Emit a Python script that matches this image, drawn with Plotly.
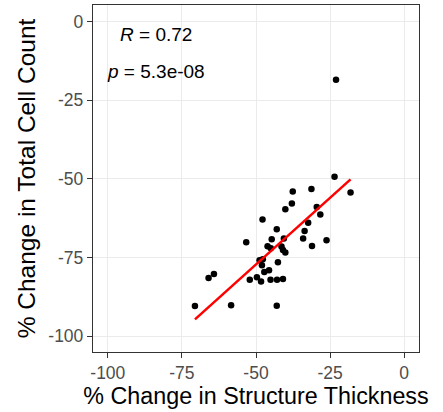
import numpy as np
import plotly.graph_objects as go

thickness_change = [-23.0, -23.5, -18.1, -37.6, -31.3, -37.9, -40.1, -29.5, -28.3, -47.8,
                    -32.4, -43.0, -33.6, -34.1, -26.2, -53.3, -44.7, -40.6, -31.1, -46.1,
                    -45.0, -41.4, -40.9, -40.1, -48.8, -47.7, -48.0, -42.6, -45.6, -47.2,
                    -52.1, -49.7, -48.3, -45.1, -42.9, -40.9, -64.2, -66.0, -70.6, -58.4,
                    -43.0]
cell_count_change = [-18.5, -49.3, -54.3, -54.0, -53.2, -57.8, -59.6, -58.9, -61.3, -62.9,
                     -63.9, -66.0, -66.5, -68.9, -69.5, -70.1, -69.2, -68.9, -71.3, -71.4,
                     -72.0, -71.5, -72.6, -73.4, -75.8, -75.5, -77.4, -76.5, -79.0, -79.6,
                     -82.0, -81.2, -82.6, -82.0, -82.0, -81.8, -80.2, -81.5, -90.4, -90.1,
                     -90.3]
tick_vals = [-100, -75, -50, -25, 0]
tick_text = ["-100", "-75", "-50", "-25", "0"]
stat_labels = ["<i>R</i> = 0.72", "<i>p</i> = 5.3e-08"]

x = np.array(thickness_change)
y = np.array(cell_count_change)
slope, intercept = np.polyfit(x, y, 1)
xl = np.array([x.min(), x.max()])
yl = slope * xl + intercept

fig = go.Figure()
fig.add_trace(go.Scatter(x=x, y=y, mode="markers",
                         marker=dict(color="black", size=6.5), showlegend=False))
fig.add_trace(go.Scatter(x=xl, y=yl, mode="lines",
                         line=dict(color="red", width=2.5), showlegend=False))

fig.add_annotation(x=-83.7, y=-4.2, xref="x", yref="y", text=stat_labels[0],
                   showarrow=False, xanchor="center", yanchor="middle",
                   font=dict(family="Liberation Sans, Arial", size=19, color="black"))
fig.add_annotation(x=-83.7, y=-15.9, xref="x", yref="y", text=stat_labels[1],
                   showarrow=False, xanchor="center", yanchor="middle",
                   font=dict(family="Liberation Sans, Arial", size=19, color="black"))

axis_common = dict(
    tickvals=tick_vals, ticktext=tick_text,
    showgrid=True, gridcolor="#EBEBEB", gridwidth=1,
    zeroline=False, showline=True, mirror=True, linecolor="#333333", linewidth=1.3,
    ticks="outside", ticklen=5, tickwidth=1, tickcolor="#333333",
    tickfont=dict(family="Liberation Sans, Arial", size=17.5, color="#4D4D4D"),
)
fig.update_xaxes(range=[-105, 5], title_text="% Change in Structure Thickness",
                 title_standoff=4,
                 title_font=dict(family="Liberation Sans, Arial", size=23.3, color="black"),
                 **axis_common)
fig.update_yaxes(range=[-105, 5.3], title_text="% Change in Total Cell Count",
                 title_standoff=5,
                 title_font=dict(family="Liberation Sans, Arial", size=24.5, color="black"),
                 **axis_common)

fig.update_layout(
    width=443, height=412,
    margin=dict(l=93, r=24, t=5, b=60, autoexpand=False),
    plot_bgcolor="white", paper_bgcolor="white",
    font=dict(family="Liberation Sans, Arial"),
)
fig.write_html("out.html")
